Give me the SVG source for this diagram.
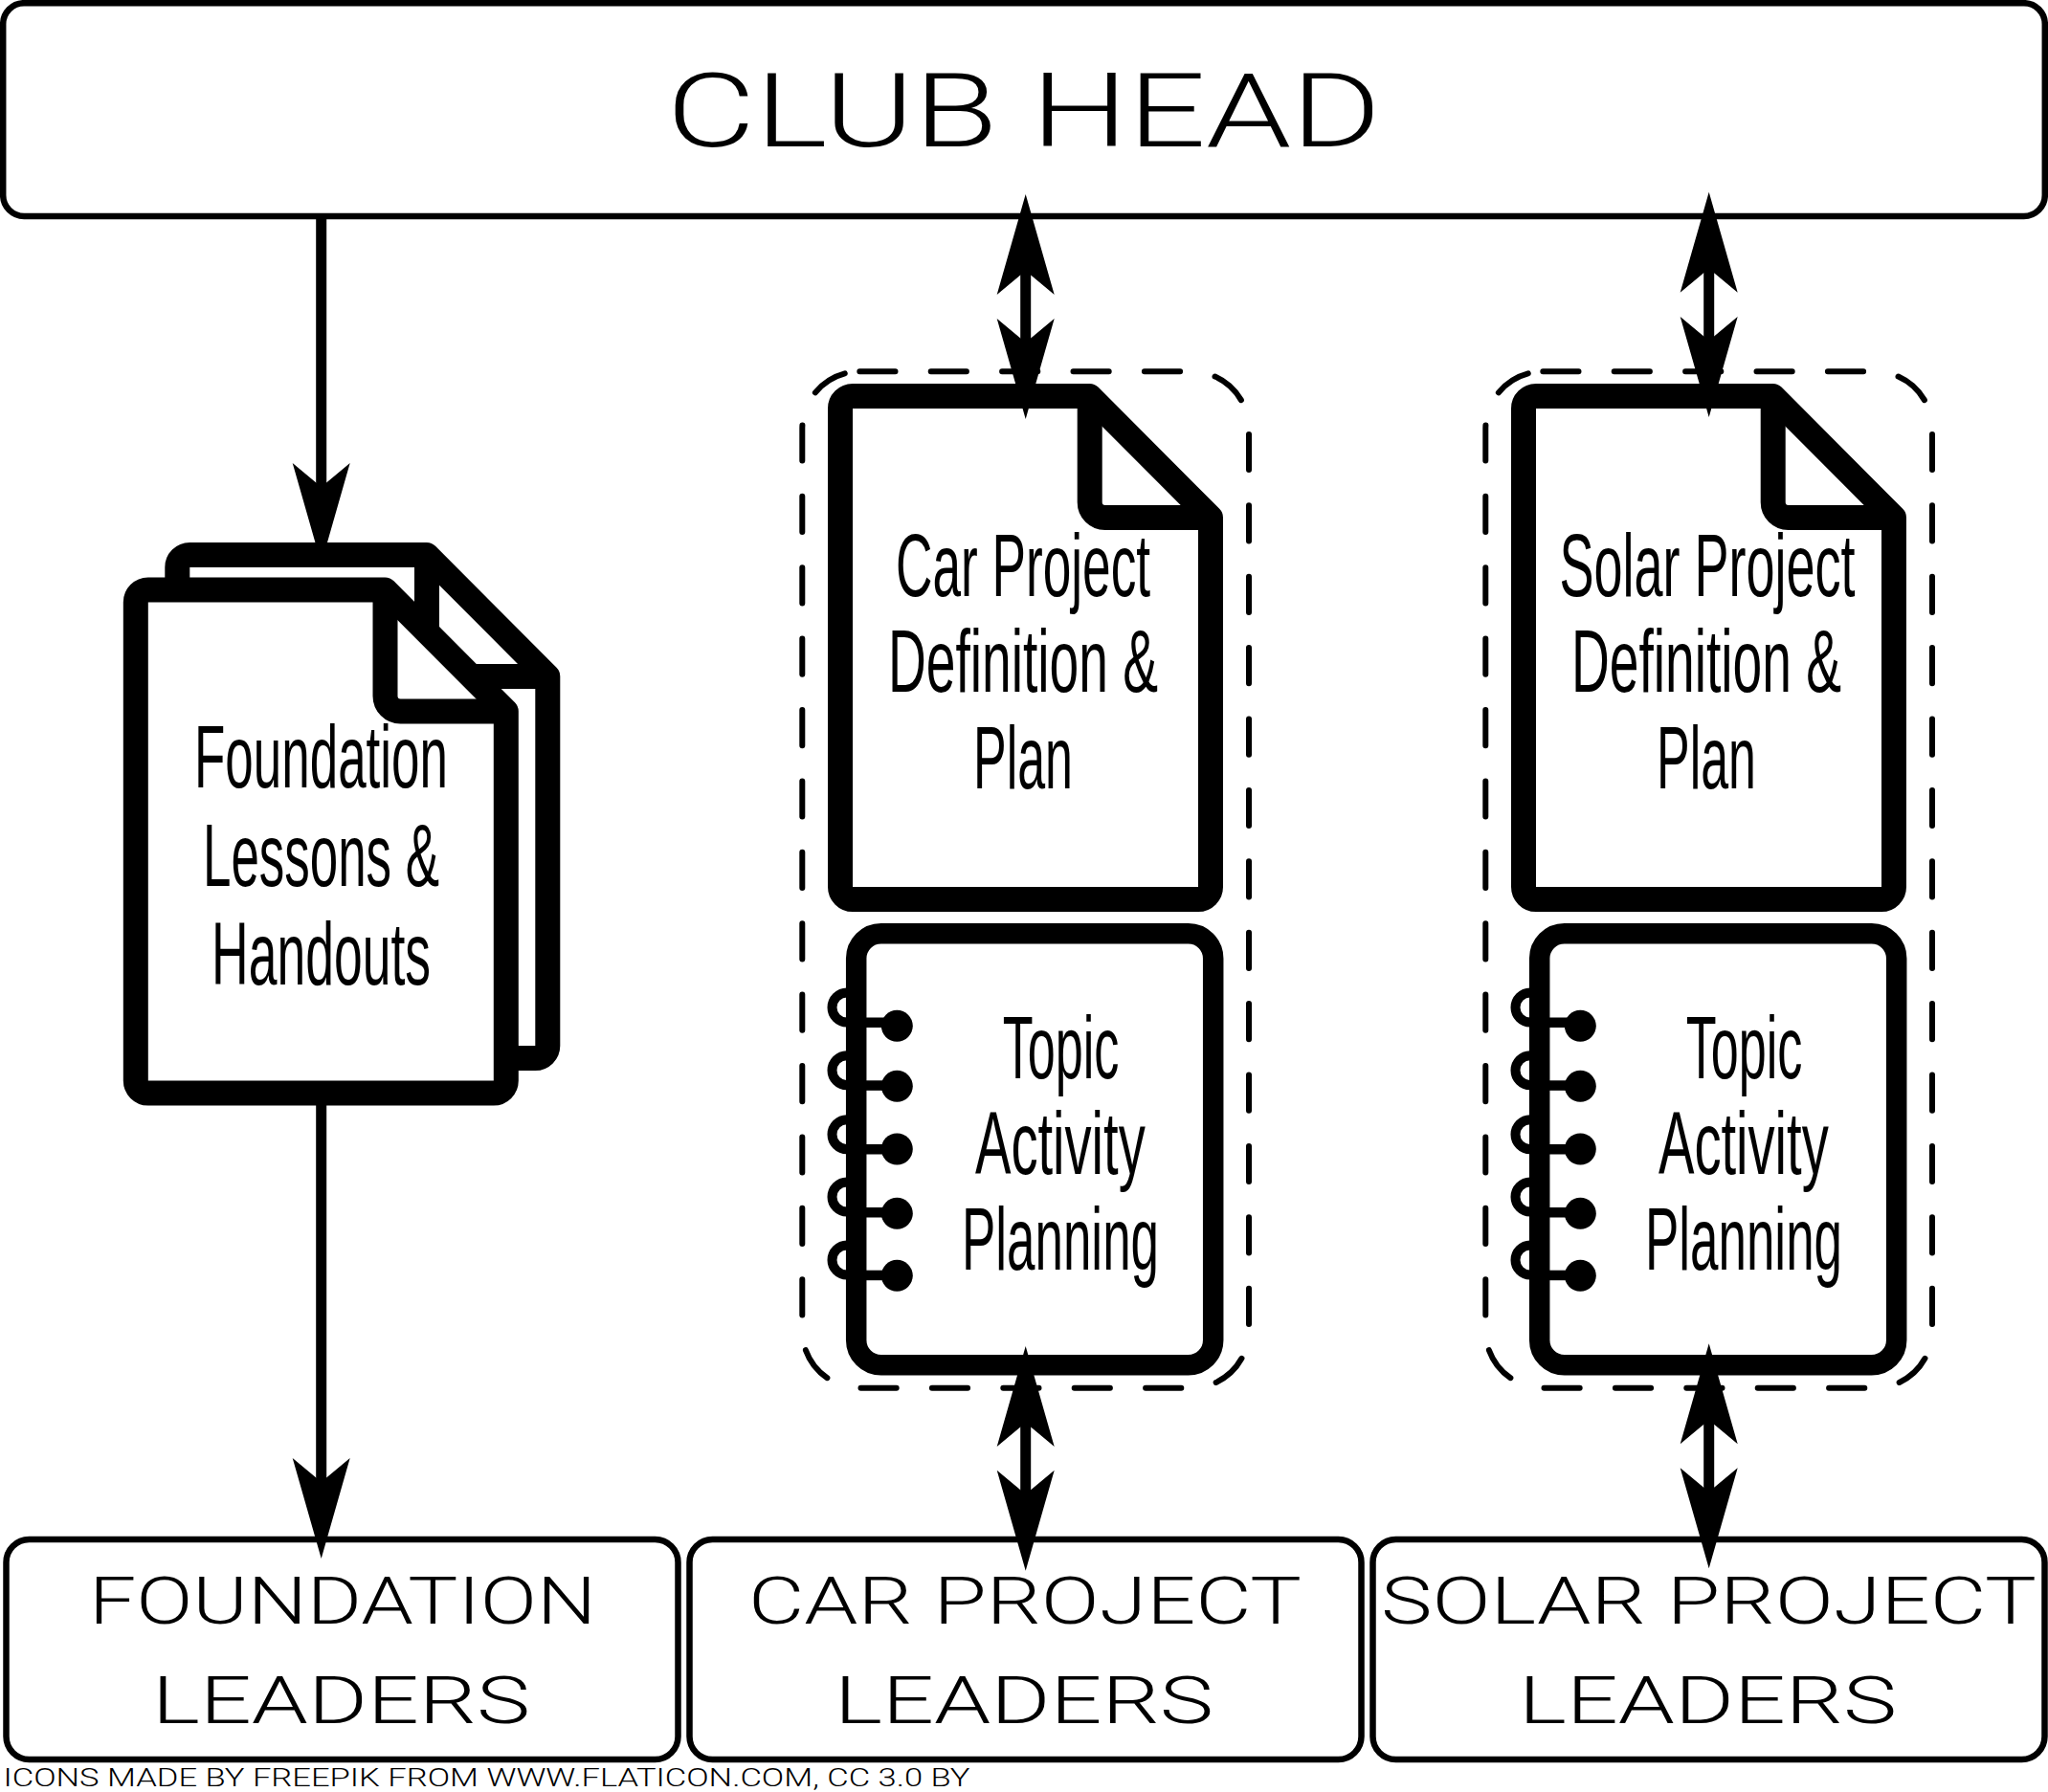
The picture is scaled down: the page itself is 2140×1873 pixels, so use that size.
<svg xmlns="http://www.w3.org/2000/svg" width="2140" height="1873" viewBox="0 0 2140 1873">
<style>
.box{fill:#fff;stroke:#000;stroke-width:6.5}
.page{fill:#fff;stroke:#000;stroke-width:26;stroke-linejoin:round}
.book{fill:#fff;stroke:#000;stroke-width:21.5}
.dash{fill:none;stroke:#000;stroke-width:6;stroke-linecap:round;stroke-dasharray:37.2 37.2}
.ring{fill:none;stroke:#000;stroke-width:10}
.wire{fill:none;stroke:#000;stroke-width:11}
.n{font-family:"Liberation Sans",Arial,sans-serif;font-size:92px;text-anchor:start;fill:#000}
.d{font-family:Roboto,"Liberation Sans",sans-serif;font-weight:300;fill:#000}
</style>
<defs>
<marker id="head" markerUnits="userSpaceOnUse" markerWidth="106" markerHeight="62" refX="45" refY="31" orient="auto-start-reverse" overflow="visible"><polygon points="0,1 105,31 0,61 25,31" fill="#000"/></marker>
<path id="doc" class="page" d="M891 414H1138.5L1265 541V927a13 13 0 0 1-13 13H891a13 13 0 0 1-13-13V427a13 13 0 0 1 13-13Z"/>
<path id="fold" class="page" style="fill:none" d="M1138.7 414V525a16 16 0 0 0 16 16H1265"/>
<path id="dashbox" class="dash" d="M898.3 388.3H1245A60 60 0 0 1 1305 448.3V1390.7A60 60 0 0 1 1245 1450.7H898.3A60 60 0 0 1 838.3 1390.7V448.3A60 60 0 0 1 898.3 388.3Z"/>
<g id="spiral">
<path class="ring" d="M890 1037.5H885a15.5 15.5 0 0 0 0 31H890"/>
<path class="ring" d="M890 1103.2H885a15.5 15.5 0 0 0 0 31H890"/>
<path class="ring" d="M890 1170.2H885a15.5 15.5 0 0 0 0 31H890"/>
<path class="ring" d="M890 1235.5H885a15.5 15.5 0 0 0 0 31H890"/>
<path class="ring" d="M890 1301.5H885a15.5 15.5 0 0 0 0 31H890"/>
</g>
<g id="binding">
<rect x="904" y="1063.5" width="30" height="10.5"/><circle cx="937.3" cy="1072.3" r="16.5"/>
<rect x="904" y="1129.3" width="30" height="10.5"/><circle cx="937.3" cy="1135.3" r="16.5"/>
<rect x="904" y="1196" width="30" height="10.5"/><circle cx="937.3" cy="1201" r="16.5"/>
<rect x="904" y="1262" width="30" height="10.5"/><circle cx="937.3" cy="1268.3" r="16.5"/>
<rect x="904" y="1327.7" width="30" height="10.5"/><circle cx="937.3" cy="1333.3" r="16.5"/>
</g>
</defs>

<g id="club-head">
<rect class="box" x="3.2" y="3.2" width="2133.6" height="222.8" rx="22"/>
<text class="d" x="696.5" y="153" font-size="107" textLength="746.5" lengthAdjust="spacingAndGlyphs">CLUB HEAD</text>
</g>

<g id="foundation-documents">
<g transform="translate(-692.7,166)">
<use href="#doc"/>
<use href="#fold"/>
</g>
<g transform="translate(-736.2,202.5)">
<use href="#doc"/>
<use href="#fold"/>
</g>
<text class="n" x="203" y="823" textLength="265" lengthAdjust="spacingAndGlyphs">Foundation</text>
<text class="n" x="212" y="926" textLength="247" lengthAdjust="spacingAndGlyphs">Lessons &amp;</text>
<text class="n" x="221" y="1029" textLength="229" lengthAdjust="spacingAndGlyphs">Handouts</text>
</g>

<g id="car-plan">
<use href="#dashbox"/>
<use href="#doc"/><use href="#fold"/>
<text class="n" x="936" y="622.7" textLength="266" lengthAdjust="spacingAndGlyphs">Car Project</text>
<text class="n" x="928" y="723" textLength="282" lengthAdjust="spacingAndGlyphs">Definition &amp;</text>
<text class="n" x="1017" y="824" textLength="104" lengthAdjust="spacingAndGlyphs">Plan</text>
</g>
<g id="car-topic">
<use href="#spiral"/>
<rect class="book" x="894.7" y="975.8" width="373" height="450.9" rx="26"/>
<use href="#binding"/>
<text class="n" x="1047.7" y="1126.7" textLength="121.6" lengthAdjust="spacingAndGlyphs">Topic</text>
<text class="n" x="1019" y="1226.7" textLength="177.7" lengthAdjust="spacingAndGlyphs">Activity</text>
<text class="n" x="1005" y="1327.3" textLength="206" lengthAdjust="spacingAndGlyphs">Planning</text>
</g>

<g id="solar-plan">
<use href="#dashbox" x="714"/>
<use href="#doc" x="714"/><use href="#fold" x="714"/>
<text class="n" x="1629.5" y="622.7" textLength="309" lengthAdjust="spacingAndGlyphs">Solar Project</text>
<text class="n" x="1642" y="723" textLength="282" lengthAdjust="spacingAndGlyphs">Definition &amp;</text>
<text class="n" x="1731" y="824" textLength="104" lengthAdjust="spacingAndGlyphs">Plan</text>
</g>
<g id="solar-topic">
<use href="#spiral" x="714"/>
<rect class="book" x="1608.7" y="975.8" width="373" height="450.9" rx="26"/>
<use href="#binding" x="714"/>
<text class="n" x="1761.7" y="1126.7" textLength="121.6" lengthAdjust="spacingAndGlyphs">Topic</text>
<text class="n" x="1733" y="1226.7" textLength="177.7" lengthAdjust="spacingAndGlyphs">Activity</text>
<text class="n" x="1719" y="1327.3" textLength="206" lengthAdjust="spacingAndGlyphs">Planning</text>
</g>

<g id="foundation-leaders">
<rect class="box" x="6.5" y="1609" width="702" height="230" rx="24"/>
<text class="d" x="93" y="1696.7" font-size="68" textLength="530" lengthAdjust="spacingAndGlyphs">FOUNDATION</text>
<text class="d" x="159" y="1800.7" font-size="68" textLength="395" lengthAdjust="spacingAndGlyphs">LEADERS</text>
</g>
<g id="car-leaders">
<rect class="box" x="720.5" y="1609" width="702" height="230" rx="24"/>
<text class="d" x="782" y="1696.7" font-size="68" textLength="578" lengthAdjust="spacingAndGlyphs">CAR PROJECT</text>
<text class="d" x="872" y="1800.7" font-size="68" textLength="396" lengthAdjust="spacingAndGlyphs">LEADERS</text>
</g>
<g id="solar-leaders">
<rect class="box" x="1434.5" y="1609" width="702" height="230" rx="24"/>
<text class="d" x="1443" y="1696.7" font-size="68" textLength="685" lengthAdjust="spacingAndGlyphs">SOLAR PROJECT</text>
<text class="d" x="1587" y="1800.7" font-size="68" textLength="395" lengthAdjust="spacingAndGlyphs">LEADERS</text>
</g>
<text id="credit" class="d" x="3.5" y="1867" font-size="25" textLength="1010" lengthAdjust="spacingAndGlyphs">ICONS MADE BY FREEPIK FROM WWW.FLATICON.COM, CC 3.0 BY</text>

<g id="connectors">
<line class="wire" x1="335.7" y1="226" x2="335.7" y2="529" marker-end="url(#head)"/>
<line class="wire" x1="335.7" y1="1150" x2="335.7" y2="1569" marker-end="url(#head)"/>
<line class="wire" x1="1071.7" y1="263" x2="1071.7" y2="378" marker-start="url(#head)" marker-end="url(#head)"/>
<line class="wire" x1="1071.7" y1="1467" x2="1071.7" y2="1581.7" marker-start="url(#head)" marker-end="url(#head)"/>
<line class="wire" x1="1785.7" y1="260.7" x2="1785.7" y2="376" marker-start="url(#head)" marker-end="url(#head)"/>
<line class="wire" x1="1785.7" y1="1464.3" x2="1785.7" y2="1579.3" marker-start="url(#head)" marker-end="url(#head)"/>
</g>
</svg>
